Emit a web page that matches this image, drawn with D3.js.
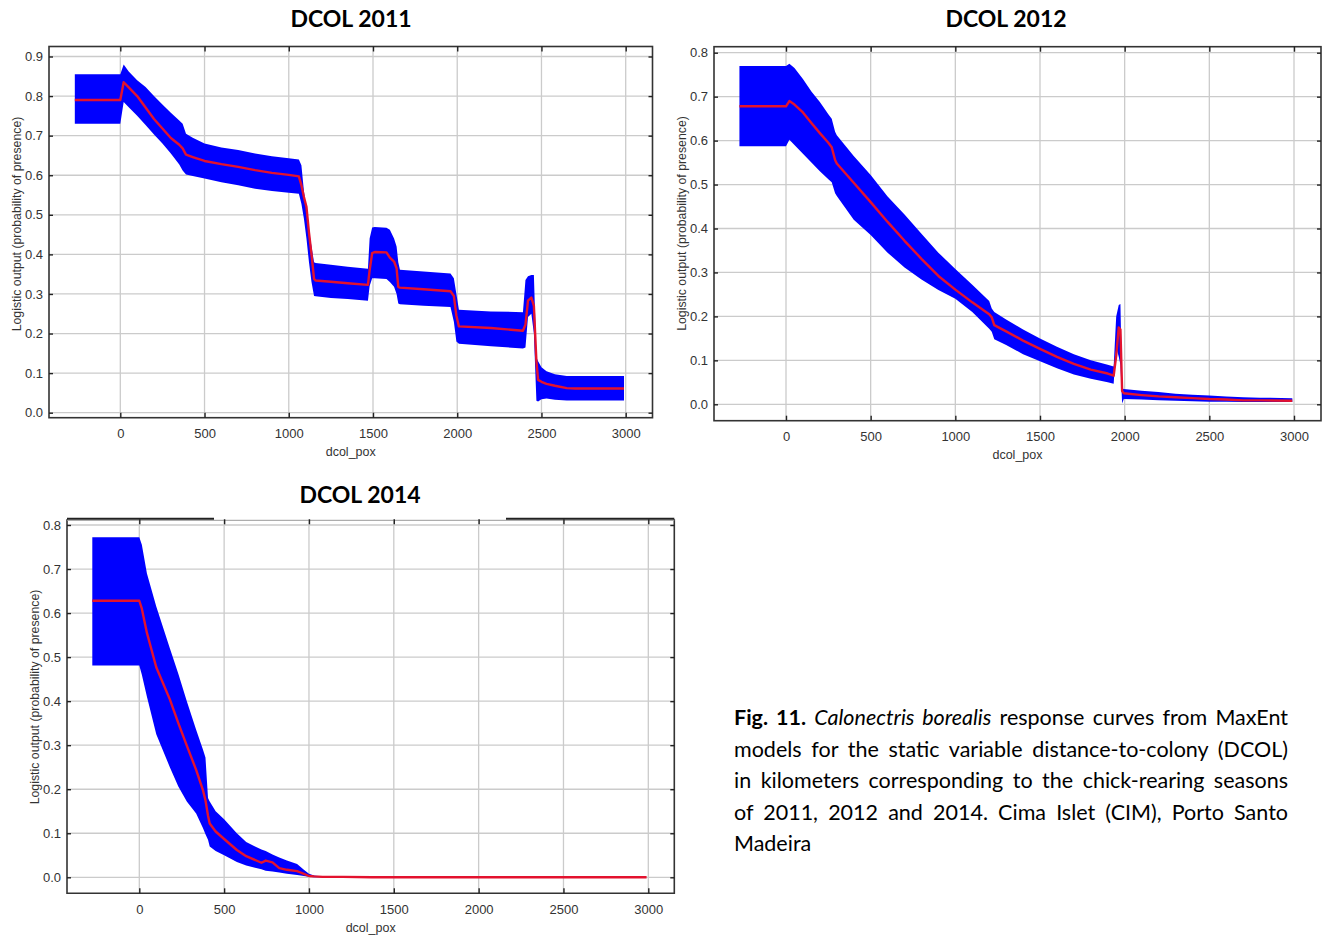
<!DOCTYPE html>
<html>
<head>
<meta charset="utf-8">
<script src="https://cdn.jsdelivr.net/npm/d3@7"></script>
<style>
  body { margin: 0; background: #fff; }
  #root { position: relative; width: 1333px; height: 942px; overflow: hidden; }
  #root svg { position: absolute; left: 0; top: 0; }
  .caption {
    position: absolute; left: 734px; top: 702px; width: 554px;
    font-family: Lato, "Open Sans", sans-serif; font-size: 21.5px;
    line-height: 31.5px; color: #000;
  }
  .caption div { text-align: justify; text-align-last: justify; }
  .caption div.last { text-align-last: left; }
</style>
</head>
<body>
<div id="root">
  <svg width="1333" height="942"></svg>
  <div class="caption">
    <div><b>Fig. 11.</b> <i>Calonectris borealis</i> response curves from MaxEnt</div>
    <div>models for the static variable distance-to-colony (DCOL)</div>
    <div>in kilometers corresponding to the chick-rearing seasons</div>
    <div>of 2011, 2012 and 2014. Cima Islet (CIM), Porto Santo</div>
    <div class="last">Madeira</div>
  </div>
</div>
<script>
// values (mean and +/- one sd)
const x2011 = [-270, 0, 20, 50, 100, 150, 200, 250, 300, 350, 370, 390, 430, 500, 600, 700, 800, 900, 1000, 1060, 1075, 1090, 1105, 1120, 1135, 1150, 1160, 1250, 1350, 1470, 1480, 1495, 1510, 1580, 1600, 1625, 1640, 1650, 1660, 1800, 1960, 1980, 1995, 2010, 2200, 2390, 2405, 2420, 2440, 2455, 2470, 2480, 2500, 2530, 2580, 2650, 2700, 2990];
const mean2011 = [0.79, 0.79, 0.835, 0.822, 0.800, 0.771, 0.742, 0.718, 0.694, 0.677, 0.668, 0.652, 0.646, 0.636, 0.628, 0.621, 0.613, 0.606, 0.601, 0.597, 0.575, 0.545, 0.520, 0.455, 0.400, 0.338, 0.334, 0.331, 0.327, 0.323, 0.360, 0.403, 0.406, 0.405, 0.392, 0.382, 0.365, 0.318, 0.316, 0.312, 0.307, 0.295, 0.245, 0.218, 0.214, 0.207, 0.222, 0.283, 0.291, 0.270, 0.130, 0.083, 0.078, 0.073, 0.068, 0.062, 0.061, 0.061];
const upper2011 = [0.855, 0.855, 0.880, 0.862, 0.840, 0.823, 0.800, 0.779, 0.758, 0.738, 0.730, 0.705, 0.695, 0.680, 0.670, 0.664, 0.655, 0.648, 0.643, 0.640, 0.625, 0.560, 0.510, 0.460, 0.420, 0.380, 0.378, 0.374, 0.369, 0.364, 0.440, 0.468, 0.469, 0.467, 0.462, 0.440, 0.420, 0.380, 0.361, 0.357, 0.352, 0.340, 0.300, 0.260, 0.256, 0.254, 0.335, 0.345, 0.348, 0.348, 0.140, 0.130, 0.115, 0.105, 0.097, 0.093, 0.093, 0.093];
const lower2011 = [0.730, 0.730, 0.785, 0.772, 0.750, 0.727, 0.703, 0.680, 0.655, 0.627, 0.612, 0.602, 0.598, 0.592, 0.582, 0.575, 0.566, 0.560, 0.556, 0.553, 0.528, 0.490, 0.440, 0.380, 0.330, 0.295, 0.294, 0.290, 0.287, 0.283, 0.320, 0.340, 0.340, 0.338, 0.330, 0.318, 0.300, 0.276, 0.274, 0.270, 0.267, 0.230, 0.180, 0.174, 0.168, 0.162, 0.165, 0.242, 0.250, 0.200, 0.030, 0.028, 0.034, 0.036, 0.033, 0.031, 0.031, 0.031];

const x2012 = [-275, 0, 20, 50, 100, 150, 200, 250, 270, 290, 300, 400, 500, 600, 700, 800, 900, 1000, 1100, 1200, 1215, 1230, 1300, 1400, 1500, 1600, 1700, 1800, 1900, 1935, 1950, 1965, 1975, 1985, 1995, 2100, 2200, 2300, 2400, 2500, 2600, 2700, 2800, 2990];
const mean2012 = [0.678, 0.678, 0.690, 0.682, 0.664, 0.640, 0.617, 0.595, 0.585, 0.556, 0.548, 0.504, 0.460, 0.415, 0.372, 0.331, 0.292, 0.261, 0.232, 0.205, 0.198, 0.180, 0.166, 0.145, 0.126, 0.108, 0.092, 0.079, 0.070, 0.065, 0.110, 0.175, 0.170, 0.030, 0.025, 0.021, 0.018, 0.016, 0.014, 0.012, 0.011, 0.009, 0.009, 0.008];
const upper2012 = [0.770, 0.770, 0.775, 0.765, 0.740, 0.712, 0.688, 0.660, 0.650, 0.620, 0.612, 0.565, 0.522, 0.473, 0.432, 0.388, 0.345, 0.308, 0.272, 0.235, 0.218, 0.210, 0.193, 0.170, 0.150, 0.131, 0.114, 0.100, 0.090, 0.086, 0.200, 0.226, 0.228, 0.036, 0.035, 0.031, 0.028, 0.024, 0.022, 0.020, 0.018, 0.016, 0.015, 0.014];
const lower2012 = [0.587, 0.587, 0.602, 0.590, 0.570, 0.550, 0.530, 0.512, 0.505, 0.480, 0.474, 0.420, 0.385, 0.345, 0.311, 0.284, 0.260, 0.240, 0.210, 0.172, 0.165, 0.148, 0.135, 0.114, 0.098, 0.082, 0.068, 0.058, 0.050, 0.047, 0.130, 0.108, 0.090, 0.002, 0.012, 0.011, 0.009, 0.008, 0.007, 0.006, 0.006, 0.005, 0.005, 0.005];

const x2014 = [-277, 0, 15, 45, 100, 180, 230, 280, 335, 375, 390, 405, 415, 450, 500, 575, 630, 720, 745, 785, 825, 870, 930, 970, 1000, 1030, 1080, 1200, 1370, 1500, 2000, 2500, 2990];
const mean2014 = [0.628, 0.628, 0.610, 0.555, 0.477, 0.404, 0.350, 0.299, 0.244, 0.198, 0.175, 0.140, 0.122, 0.104, 0.087, 0.062, 0.048, 0.033, 0.038, 0.034, 0.021, 0.017, 0.014, 0.008, 0.003, 0.002, 0.001, 0.001, 0, 0, 0, 0, 0];
const upper2014 = [0.772, 0.772, 0.755, 0.690, 0.615, 0.520, 0.462, 0.400, 0.335, 0.290, 0.272, 0.180, 0.172, 0.150, 0.132, 0.100, 0.080, 0.063, 0.060, 0.052, 0.045, 0.038, 0.030, 0.017, 0.008, 0.004, 0.002, 0.002, 0.0015, 0, 0, 0, 0];
const lower2014 = [0.481, 0.481, 0.460, 0.410, 0.325, 0.250, 0.206, 0.172, 0.145, 0.112, 0.098, 0.085, 0.070, 0.060, 0.050, 0.035, 0.027, 0.018, 0.015, 0.013, 0.011, 0.008, 0.005, 0.003, 0.001, 0, 0, 0, 0, 0, 0, 0, 0];

const xTicks = [0, 500, 1000, 1500, 2000, 2500, 3000];
const yTicks09 = [0, 0.1, 0.2, 0.3, 0.4, 0.5, 0.6, 0.7, 0.8, 0.9];
const yTicks08 = [0, 0.1, 0.2, 0.3, 0.4, 0.5, 0.6, 0.7, 0.8];
const titles = ['DCOL 2011', 'DCOL 2012', 'DCOL 2014'];
const xLabel = 'dcol_pox';
const yLabel = 'Logistic output (probability of presence)';

const tickFont = '"Liberation Sans", Arial, sans-serif';

const svg = d3.select('#root svg');

function drawPanel(p) {
  const g = svg.append('g');
  const x = d3.scaleLinear().domain([0, 3000]).range(p.xRange);
  const y = d3.scaleLinear().domain([0, p.yTicks[p.yTicks.length - 1]]).range(p.yRange);
  const f = p.frame;

  // grid
  g.append('g').selectAll('line').data(xTicks).join('line')
    .attr('x1', d => x(d)).attr('x2', d => x(d))
    .attr('y1', f.top).attr('y2', f.bottom)
    .attr('stroke', '#cbcbcb').attr('stroke-width', 1.3);
  g.append('g').selectAll('line').data(p.yTicks).join('line')
    .attr('x1', f.left).attr('x2', f.right)
    .attr('y1', d => y(d)).attr('y2', d => y(d))
    .attr('stroke', '#cbcbcb').attr('stroke-width', 1.3);

  const idx = d3.range(p.xs.length);
  const band = d3.area()
    .x(i => x(p.xs[i]))
    .y0(i => y(p.lower[i]))
    .y1(i => y(p.upper[i]));
  g.append('path').datum(idx)
    .attr('d', band)
    .attr('fill', '#0000ff');

  const line = d3.line()
    .x(i => x(p.xs[i]))
    .y(i => y(p.mean[i]));
  g.append('path').datum(idx)
    .attr('d', line)
    .attr('fill', 'none')
    .attr('stroke', '#e3122e')
    .attr('stroke-width', 2.4)
    .attr('stroke-linejoin', 'round');

  // frame
  g.append('rect')
    .attr('x', f.left).attr('y', f.top)
    .attr('width', f.right - f.left).attr('height', f.bottom - f.top)
    .attr('fill', 'none')
    .attr('stroke', p.topLight ? 'none' : '#333')
    .attr('stroke-width', 1.6);
  if (p.topLight) {
    g.append('path')
      .attr('d', `M${f.left},${f.top}V${f.bottom}H${f.right}V${f.top}`)
      .attr('fill', 'none').attr('stroke', '#333').attr('stroke-width', 1.6);
    g.append('line')
      .attr('x1', f.left).attr('x2', f.right).attr('y1', f.top + 1).attr('y2', f.top + 1)
      .attr('stroke', '#999').attr('stroke-width', 1);
    g.selectAll('line.seg').data(p.topLight).join('line')
      .attr('class', 'seg')
      .attr('x1', d => d[0]).attr('x2', d => d[1])
      .attr('y1', f.top - 0.5).attr('y2', f.top - 0.5)
      .attr('stroke', '#222').attr('stroke-width', 2);
  }

  const styleAxis = sel => {
    sel.select('.domain').remove();
    sel.selectAll('.tick line').attr('stroke', '#222').attr('stroke-width', 1.4);
    sel.selectAll('.tick text')
      .attr('fill', '#333')
      .attr('font-family', tickFont)
      .attr('font-size', 13);
  };

  g.append('g').attr('transform', `translate(${f.left},0)`)
    .call(d3.axisLeft(y).tickValues(p.yTicks).tickFormat(d3.format('.1f'))
      .tickSizeInner(-4).tickSizeOuter(0).tickPadding(6))
    .call(styleAxis);
  g.append('g').attr('transform', `translate(${f.right},0)`)
    .call(d3.axisRight(y).tickValues(p.yTicks).tickFormat('')
      .tickSizeInner(-4).tickSizeOuter(0))
    .call(styleAxis);
  g.append('g').attr('transform', `translate(0,${f.bottom})`)
    .call(d3.axisBottom(x).tickValues(xTicks).tickFormat(d3.format('d'))
      .tickSizeInner(-5).tickSizeOuter(0).tickPadding(11))
    .call(styleAxis);
  g.append('g').attr('transform', `translate(0,${f.top})`)
    .call(d3.axisTop(x).tickValues(xTicks).tickFormat('')
      .tickSizeInner(-5).tickSizeOuter(0))
    .call(styleAxis);

  g.append('text')
    .attr('x', (f.left + f.right) / 2).attr('y', p.xLabelY)
    .attr('text-anchor', 'middle')
    .attr('font-family', tickFont).attr('font-size', 12.5).attr('fill', '#333')
    .text(xLabel);
  g.append('text')
    .attr('transform', `translate(${p.yLabelPos[0]},${p.yLabelPos[1]}) rotate(-90)`)
    .attr('text-anchor', 'middle')
    .attr('font-family', tickFont).attr('font-size', 12.3).attr('fill', '#333')
    .text(yLabel);

  svg.append('text')
    .attr('x', p.titlePos[0]).attr('y', p.titlePos[1])
    .attr('text-anchor', 'middle')
    .attr('font-family', 'Lato, "Open Sans", sans-serif')
    .attr('font-weight', 'bold').attr('font-size', 23).attr('fill', '#000')
    .text(p.title);
}

const panels = [
  { title: titles[0], xs: x2011, mean: mean2011, upper: upper2011, lower: lower2011, yTicks: yTicks09,
    xRange: [120.3, 625.7], yRange: [412.7, 56.5],
    frame: { left: 49, right: 652.5, top: 46.5, bottom: 417.7 },
    xLabelY: 455.5, yLabelPos: [20.5, 224], titlePos: [351, 27] },
  { title: titles[1], xs: x2012, mean: mean2012, upper: upper2012, lower: lower2012, yTicks: yTicks08,
    xRange: [786, 1294], yRange: [404.3, 52.7],
    frame: { left: 714, right: 1321, top: 46.7, bottom: 420.7 },
    xLabelY: 458.8, yLabelPos: [686, 223.5], titlePos: [1006, 27] },
  { title: titles[2], xs: x2014, mean: mean2014, upper: upper2014, lower: lower2014, yTicks: yTicks08,
    xRange: [139.3, 648.3], yRange: [877.3, 525],
    frame: { left: 67, right: 674.3, top: 519.3, bottom: 893.3 },
    topLight: [[67, 214], [506, 674.3]],
    xLabelY: 932, yLabelPos: [39, 697], titlePos: [360, 503] }
];

panels.forEach(drawPanel);
</script>
</body>
</html>
